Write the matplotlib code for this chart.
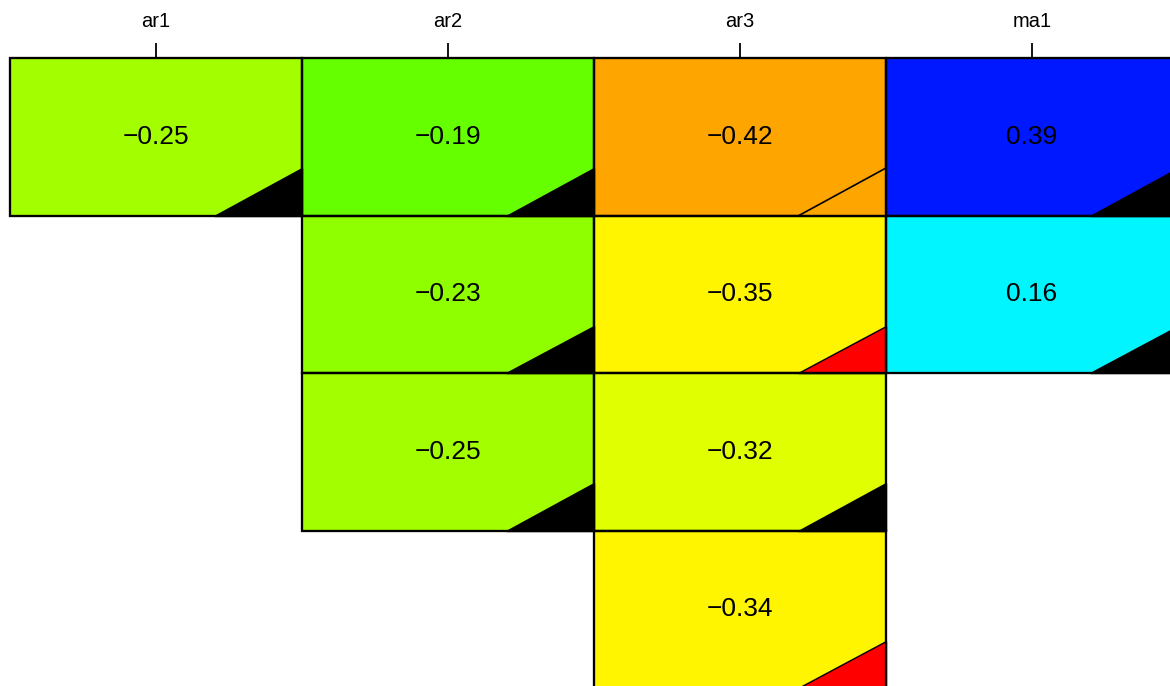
import matplotlib

matplotlib.use("Agg")
import matplotlib.pyplot as plt
from matplotlib.patches import Polygon, Rectangle

# cell data: one entry per filled cell
col_labels = ["ar1", "ar2", "ar3", "ma1"]
cell_col = [0, 1, 2, 3, 1, 2, 3, 1, 2, 2]
cell_row = [0, 0, 0, 0, 1, 1, 1, 2, 2, 3]
cell_value = [-0.25, -0.19, -0.42, 0.39, -0.23, -0.35, 0.16, -0.25, -0.32, -0.34]
cell_fill = ["#A3FF00", "#66FF00", "#FFA500", "#0018FF", "#8FFF00",
             "#FFF500", "#00F5FF", "#A3FF00", "#E0FF00", "#FFF500"]
corner_fill = ["black", "black", None, "black", "black",
               "red", "black", "black", "black", "red"]

W, H = 1170, 686
fig = plt.figure(figsize=(W / 100, H / 100), dpi=100)
# plot region runs slightly past the right and bottom edges, as in the reference
x0, x1 = 10, 1178
y_top, y_bot = 58, 688
ax = fig.add_axes([x0 / W, 1 - y_bot / H, (x1 - x0) / W, (y_bot - y_top) / H])
ax.set_xlim(0, 4)
ax.set_ylim(4, 0)

for c, r, v, fc, tc in zip(cell_col, cell_row, cell_value, cell_fill, corner_fill):
    ax.add_patch(Rectangle((c, r), 1, 1, facecolor=fc, edgecolor="black",
                           linewidth=1.5, clip_on=False, zorder=1))
    tri = [(c + 0.7, r + 1), (c + 1, r + 1), (c + 1, r + 0.7)]
    if tc is None:
        ax.add_patch(Polygon(tri, closed=True, facecolor=fc, edgecolor="black",
                             linewidth=1.2, clip_on=False, zorder=2))
    else:
        ax.add_patch(Polygon(tri, closed=True, facecolor=tc, edgecolor="black",
                             linewidth=1.0, clip_on=False, zorder=2))
    label = f"{v:.2f}".replace("-", "\u2212")
    ax.text(c + 0.5, r + 0.5, label, ha="center", va="center",
            fontsize=19, family="Liberation Sans", zorder=3)

# re-stroke cell borders over the corner triangles
for c, r in zip(cell_col, cell_row):
    ax.add_patch(Rectangle((c, r), 1, 1, facecolor="none", edgecolor="black",
                           linewidth=1.6, clip_on=False, zorder=4))

ax.xaxis.tick_top()
ax.set_xticks([i + 0.5 for i in range(len(col_labels))])
ax.set_xticklabels(col_labels, family="Liberation Sans", fontsize=14.5)
ax.tick_params(axis="x", length=10.5, width=1.3, pad=9, colors="black")
ax.set_yticks([])
for s in ax.spines.values():
    s.set_visible(False)

fig.savefig("out.png", dpi=100)
